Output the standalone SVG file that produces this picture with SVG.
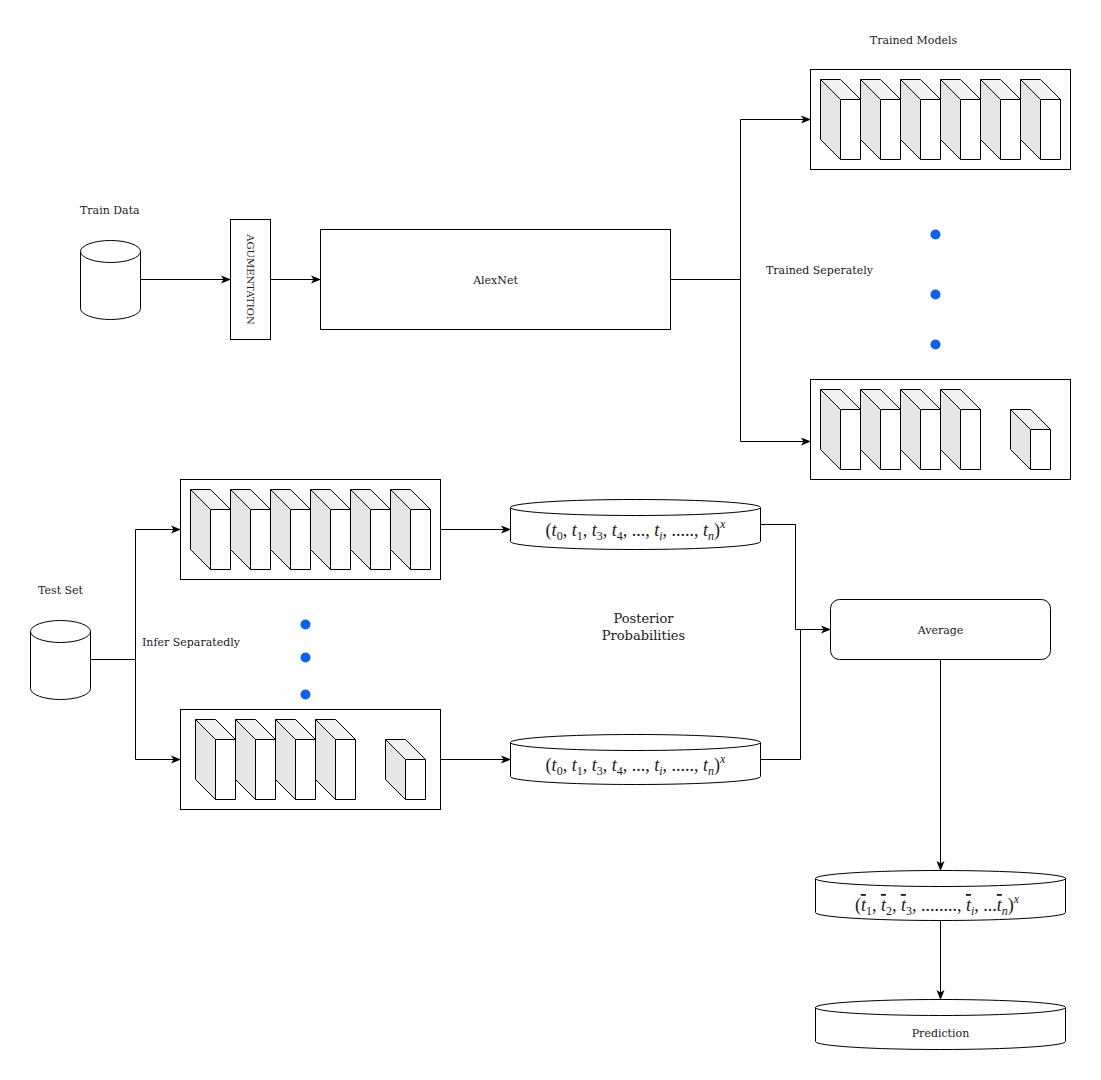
<svg xmlns="http://www.w3.org/2000/svg" xmlns:xlink="http://www.w3.org/1999/xlink" width="1101" height="1080" viewBox="0 0 1101 1080">
<style>
.lbl{font-family:"DejaVu Serif","Noto Serif",serif;font-size:11px;fill:#1a1a1a}
.big{font-size:13px}
.math{font-family:"Liberation Serif","DejaVu Serif",serif;font-size:18px;fill:#1a1a1a}
.m{font-style:italic}
.s{font-size:12px}
.box{fill:#fff;stroke:#000;stroke-width:1}
.cyl{fill:#fff;stroke:#000;stroke-width:1}
.edge{fill:none;stroke:#000;stroke-width:1}
.dot{fill:#0f62e8}
.side{fill:#e6e6e6}
.top{fill:#f2f2f2}
</style>
<defs>
<marker id="arr" viewBox="0 0 10 10" refX="9" refY="5" markerWidth="10" markerHeight="10" markerUnits="userSpaceOnUse" orient="auto">
<path d="M0,1 L10,5 L0,9 L2.5,5 Z" fill="#000"/>
</marker>
<g id="cube">
<polygon class="side" points="0,0 20,20 20,80 0,60"/>
<polygon class="top" points="0,0 20,0 40,20 20,20"/>
<rect x="20" y="20" width="20" height="60" fill="#fff"/>
<path d="M0,0 L20,0 L40,20 L40,80 L20,80 L0,60 Z M0,0 L20,20 L40,20 M20,20 L20,80" fill="none" stroke="#000" stroke-width="1"/>
</g>
<g id="cubeS">
<polygon class="side" points="0,0 20,20 20,60 0,40"/>
<polygon class="top" points="0,0 20,0 40,20 20,20"/>
<rect x="20" y="20" width="20" height="40" fill="#fff"/>
<path d="M0,0 L20,0 L40,20 L40,60 L20,60 L0,40 Z M0,0 L20,20 L40,20 M20,20 L20,60" fill="none" stroke="#000" stroke-width="1"/>
</g>
</defs>
<rect width="1101" height="1080" fill="#fff"/>

<g id="connectors">
<path class="edge" d="M140.5,279.5 L230,279.5" marker-end="url(#arr)"/>
<path class="edge" d="M270.5,279.5 L320,279.5" marker-end="url(#arr)"/>
<path class="edge" d="M670.5,279.5 L740.5,279.5 L740.5,119.5 L810,119.5" marker-end="url(#arr)"/>
<path class="edge" d="M740.5,279.5 L740.5,441.5 L810,441.5" marker-end="url(#arr)"/>
<path class="edge" d="M90.5,659.5 L135.5,659.5 L135.5,529.5 L180,529.5" marker-end="url(#arr)"/>
<path class="edge" d="M135.5,659.5 L135.5,759.5 L180,759.5" marker-end="url(#arr)"/>
<path class="edge" d="M440.5,529.5 L510,529.5" marker-end="url(#arr)"/>
<path class="edge" d="M440.5,759.5 L510,759.5" marker-end="url(#arr)"/>
<path class="edge" d="M760.5,524.5 L795.5,524.5 L795.5,629.5 L830,629.5" marker-end="url(#arr)"/>
<path class="edge" d="M760.5,759.5 L800.5,759.5 L800.5,629.5"/>
<path class="edge" d="M940.5,659.5 L940.5,870" marker-end="url(#arr)"/>
<path class="edge" d="M940.5,920.5 L940.5,999" marker-end="url(#arr)"/>
</g>

<g id="train-data">
<path class="cyl" d="M80.5,251.5 A30,11 0 0 1 140.5,251.5 L140.5,308.5 A30,11 0 0 1 80.5,308.5 Z"/>
<path class="edge" d="M80.5,251.5 A30,11 0 0 0 140.5,251.5"/>
<text class="lbl" x="80" y="214">Train Data</text>
</g>

<g id="augmentation">
<rect class="box" x="230.5" y="219.5" width="40" height="120"/>
<text class="lbl" style="font-size:10px" x="0" y="0" text-anchor="middle" transform="translate(250.5,279.5) rotate(90)" dy="3.5">AGUMENTATION</text>
</g>

<g id="alexnet">
<rect class="box" x="320.5" y="229.5" width="350" height="100"/>
<text class="lbl" x="495.5" y="283.5" text-anchor="middle">AlexNet</text>
</g>

<g id="trained-models-title">
<text class="lbl" x="913.5" y="44" text-anchor="middle">Trained Models</text>
</g>

<g id="trained-model-1">
<rect class="box" x="810.5" y="69.5" width="260" height="100"/>
<use xlink:href="#cube" x="820.5" y="79.5"/>
<use xlink:href="#cube" x="860.5" y="79.5"/>
<use xlink:href="#cube" x="900.5" y="79.5"/>
<use xlink:href="#cube" x="940.5" y="79.5"/>
<use xlink:href="#cube" x="980.5" y="79.5"/>
<use xlink:href="#cube" x="1020.5" y="79.5"/>
</g>

<g id="trained-separately">
<text class="lbl" x="766" y="273.5">Trained Seperately</text>
<circle class="dot" cx="935.5" cy="234.5" r="5"/>
<circle class="dot" cx="935.5" cy="294.5" r="5"/>
<circle class="dot" cx="935.5" cy="344.5" r="5"/>
</g>

<g id="trained-model-n">
<rect class="box" x="810.5" y="379.5" width="260" height="100"/>
<use xlink:href="#cube" x="820.5" y="389.5"/>
<use xlink:href="#cube" x="860.5" y="389.5"/>
<use xlink:href="#cube" x="900.5" y="389.5"/>
<use xlink:href="#cube" x="940.5" y="389.5"/>
<use xlink:href="#cubeS" x="1010.5" y="409.5"/>
</g>

<g id="test-set">
<path class="cyl" d="M30.5,631.5 A30,11 0 0 1 90.5,631.5 L90.5,688.5 A30,11 0 0 1 30.5,688.5 Z"/>
<path class="edge" d="M30.5,631.5 A30,11 0 0 0 90.5,631.5"/>
<text class="lbl" x="38" y="593.5">Test Set</text>
</g>

<g id="infer-separately">
<text class="lbl" x="142" y="646">Infer Separatedly</text>
<circle class="dot" cx="305.5" cy="624.5" r="5"/>
<circle class="dot" cx="305.5" cy="657.5" r="5"/>
<circle class="dot" cx="305.5" cy="694.5" r="5"/>
</g>

<g id="infer-model-1">
<rect class="box" x="180.5" y="479.5" width="260" height="100"/>
<use xlink:href="#cube" x="190.5" y="489.5"/>
<use xlink:href="#cube" x="230.5" y="489.5"/>
<use xlink:href="#cube" x="270.5" y="489.5"/>
<use xlink:href="#cube" x="310.5" y="489.5"/>
<use xlink:href="#cube" x="350.5" y="489.5"/>
<use xlink:href="#cube" x="390.5" y="489.5"/>
</g>

<g id="infer-model-n">
<rect class="box" x="180.5" y="709.5" width="260" height="100"/>
<use xlink:href="#cube" x="195.5" y="719.5"/>
<use xlink:href="#cube" x="235.5" y="719.5"/>
<use xlink:href="#cube" x="275.5" y="719.5"/>
<use xlink:href="#cube" x="315.5" y="719.5"/>
<use xlink:href="#cubeS" x="385.5" y="739.5"/>
</g>

<g id="posterior-1">
<path class="cyl" d="M510.5,507.5 A125,8 0 0 1 760.5,507.5 L760.5,541.5 A125,8 0 0 1 510.5,541.5 Z"/>
<path class="edge" d="M510.5,507.5 A125,8 0 0 0 760.5,507.5"/>
<text class="math" x="635.5" y="536" text-anchor="middle">(<tspan class="m">t</tspan><tspan class="s" dy="4">0</tspan><tspan dy="-4">, </tspan><tspan class="m">t</tspan><tspan class="s" dy="4">1</tspan><tspan dy="-4">, </tspan><tspan class="m">t</tspan><tspan class="s" dy="4">3</tspan><tspan dy="-4">, </tspan><tspan class="m">t</tspan><tspan class="s" dy="4">4</tspan><tspan dy="-4">, ..., </tspan><tspan class="m">t</tspan><tspan class="s m" dy="4">i</tspan><tspan dy="-4">, ....., </tspan><tspan class="m">t</tspan><tspan class="s m" dy="4">n</tspan><tspan dy="-4">)</tspan><tspan class="s m" dy="-8">x</tspan></text>
</g>

<g id="posterior-n">
<path class="cyl" d="M510.5,742.5 A125,8 0 0 1 760.5,742.5 L760.5,776.5 A125,8 0 0 1 510.5,776.5 Z"/>
<path class="edge" d="M510.5,742.5 A125,8 0 0 0 760.5,742.5"/>
<text class="math" x="635.5" y="771" text-anchor="middle">(<tspan class="m">t</tspan><tspan class="s" dy="4">0</tspan><tspan dy="-4">, </tspan><tspan class="m">t</tspan><tspan class="s" dy="4">1</tspan><tspan dy="-4">, </tspan><tspan class="m">t</tspan><tspan class="s" dy="4">3</tspan><tspan dy="-4">, </tspan><tspan class="m">t</tspan><tspan class="s" dy="4">4</tspan><tspan dy="-4">, ..., </tspan><tspan class="m">t</tspan><tspan class="s m" dy="4">i</tspan><tspan dy="-4">, ....., </tspan><tspan class="m">t</tspan><tspan class="s m" dy="4">n</tspan><tspan dy="-4">)</tspan><tspan class="s m" dy="-8">x</tspan></text>
</g>

<g id="posterior-label">
<text class="lbl big" x="643.5" y="623" text-anchor="middle">Posterior</text>
<text class="lbl big" x="643.5" y="640" text-anchor="middle">Probabilities</text>
</g>

<g id="average">
<rect class="box" x="830.5" y="599.5" width="220" height="60" rx="9" ry="9"/>
<text class="lbl" x="940.5" y="633.5" text-anchor="middle">Average</text>
</g>

<g id="averaged-probabilities">
<path class="cyl" d="M815.5,878.5 A125,8 0 0 1 1065.5,878.5 L1065.5,912.5 A125,8 0 0 1 815.5,912.5 Z"/>
<path class="edge" d="M815.5,878.5 A125,8 0 0 0 1065.5,878.5"/>
<text class="math" x="937" y="911" text-anchor="middle">(<tspan class="m" text-decoration="overline">t</tspan><tspan class="s" dy="4">1</tspan><tspan dy="-4">, </tspan><tspan class="m" text-decoration="overline">t</tspan><tspan class="s" dy="4">2</tspan><tspan dy="-4">, </tspan><tspan class="m" text-decoration="overline">t</tspan><tspan class="s" dy="4">3</tspan><tspan dy="-4">, ........, </tspan><tspan class="m" text-decoration="overline">t</tspan><tspan class="s m" dy="4">i</tspan><tspan dy="-4">, ...</tspan><tspan class="m" text-decoration="overline">t</tspan><tspan class="s m" dy="4">n</tspan><tspan dy="-4">)</tspan><tspan class="s m" dy="-8">x</tspan></text>
</g>

<g id="prediction">
<path class="cyl" d="M815.5,1007.5 A125,8 0 0 1 1065.5,1007.5 L1065.5,1041.5 A125,8 0 0 1 815.5,1041.5 Z"/>
<path class="edge" d="M815.5,1007.5 A125,8 0 0 0 1065.5,1007.5"/>
<text class="lbl" x="940.5" y="1036.5" text-anchor="middle">Prediction</text>
</g>
</svg>
